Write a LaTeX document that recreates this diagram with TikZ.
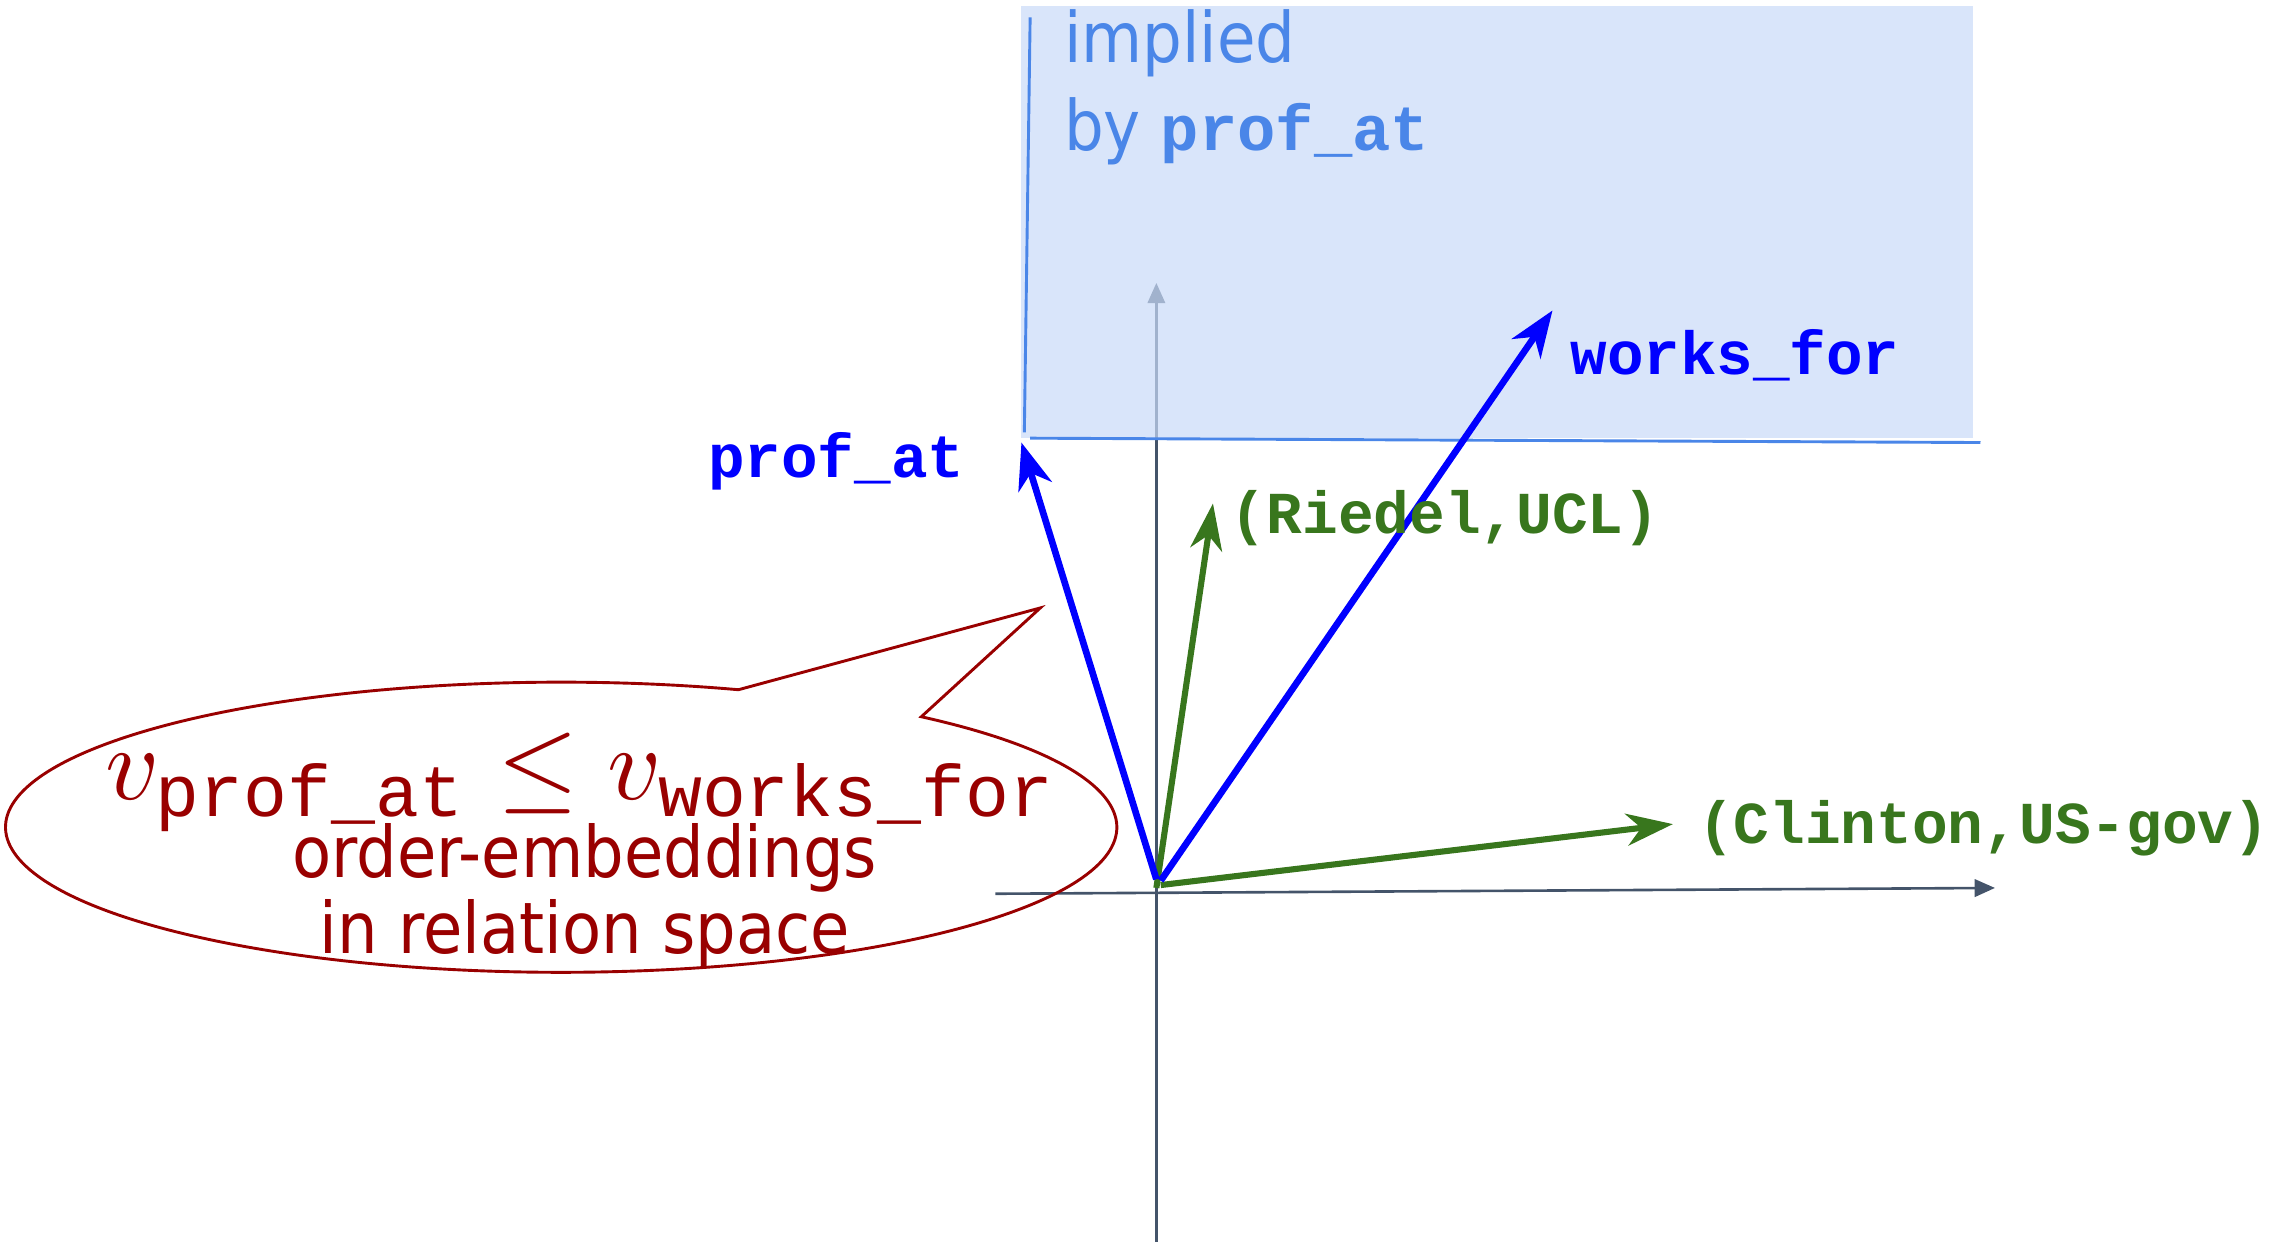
\documentclass[tikz,border=0pt]{standalone}
\usepackage{amsmath}
\usepackage{fontspec}
\usepackage{graphicx}
\usetikzlibrary{arrows.meta}
\newfontfamily\cour{Liberation Mono}
\newfontfamily\narrow[FakeStretch=0.9]{DejaVu Sans}
\definecolor{vblue}{RGB}{0,0,255}
\definecolor{vgreen}{RGB}{56,118,29}
\definecolor{dred}{RGB}{153,0,0}
\definecolor{axisc}{RGB}{68,84,106}
\definecolor{boxfill}{RGB}{201,218,248}
\definecolor{boxline}{RGB}{74,134,232}
\begin{document}
\begin{tikzpicture}[x=0.5pt,y=-0.5pt,
  axis/.style={draw=axisc,line width=0.9pt,-{Triangle[length=7pt,width=6pt]}},
  bvec/.style={draw=vblue,line width=2.3pt,-{Stealth[length=16pt,width=12pt,inset=5pt]}},
  gvec/.style={draw=vgreen,line width=2.1pt,-{Stealth[length=16pt,width=11pt,inset=5pt]}},
  blab/.style={text=vblue,font=\cour\bfseries\fontsize{21}{24}\selectfont,inner sep=0pt},
  glab/.style={text=vgreen,font=\cour\bfseries\fontsize{20.5}{24}\selectfont,inner sep=0pt},
  imptext/.style={text=boxline,font=\narrow\fontsize{24}{28}\selectfont,inner sep=0pt,anchor=base west},
  bubtext/.style={text=dred,font=\narrow\fontsize{24.5}{28}\selectfont,inner sep=0pt,anchor=base}]
\useasboundingbox (0,0) rectangle (1568,856);
% axes
\coordinate (O) at (797,612);
\coordinate (xs) at (686,616);
\coordinate (xe) at (1375,612);
\coordinate (ys) at (797,856);
\coordinate (ye) at (797,195);
\draw[axis] (xs) -- (xe);
\draw[axis] (ys) -- (ye);
% implied region
\fill[boxfill,opacity=0.7] (704,4) -- (1360,4) -- (1360,302) -- (704,302) -- cycle;
\draw[boxline,line width=1pt] (710,12) -- (706,298);
\draw[boxline,line width=1pt] (710,302) -- (1365,305);
\node[imptext] (impl) at (733,43) {implied};
\node[imptext] (impby) at (733,104) {by {\cour\bfseries\fontsize{22}{26}\selectfont prof\_at}};
% vectors
\coordinate (pa) at (704,305);
\coordinate (wf) at (1070,214);
\coordinate (ru) at (836,347);
\coordinate (cu) at (1153,568);
\draw[gvec] (797,612) -- (ru);
\draw[gvec] (800,610) -- (cu);
\draw[bvec] (797,606) -- (pa);
\draw[bvec] (800,607) -- (wf);
\node[blab,anchor=east] (lpa) at (665,318) {prof\_at};
\node[blab,anchor=west] (lwf) at (1082,245) {works\_for};
\node[glab,anchor=west] (lru) at (848,357) {(Riedel,UCL)};
\node[glab,anchor=west] (lcu) at (1170,571) {(Clinton,US-gov)};
% speech bubble
\draw[dred,line width=1pt] (635,494) arc[start angle=-49.6,end angle=288.6,x radius=383,y radius=100] -- (717,419) -- cycle;
\node[text=dred,inner sep=0pt,anchor=base] (math) at (401,551) {\scalebox{3.6}{$v_{\text{\cour prof\_at}} \leq v_{\text{\cour works\_for}}$}};
\node[bubtext] (oe) at (403,605) {order-embeddings};
\node[bubtext] (rs) at (403,657) {in relation space};
\end{tikzpicture}
\end{document}
